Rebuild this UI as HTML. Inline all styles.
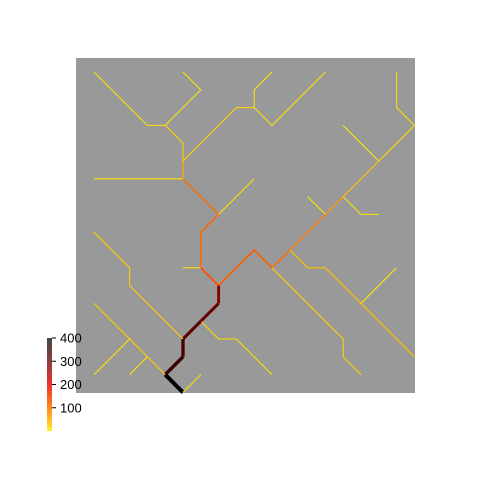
<!DOCTYPE html>
<html><head><meta charset="utf-8"><style>body{margin:0;background:#fff}svg{display:block}</style></head>
<body>
<svg id="c" width="480" height="480" xmlns="http://www.w3.org/2000/svg">
<defs><linearGradient id="g" x1="0" y1="1" x2="0" y2="0">
<stop offset="0" stop-color="#ffee33"/><stop offset="0.25" stop-color="#ff8c1a"/><stop offset="0.5" stop-color="#ee3030"/><stop offset="0.75" stop-color="#884040"/><stop offset="1" stop-color="#444"/></linearGradient></defs>
<rect x="76" y="58" width="339" height="335" fill="#999999"/>
<g id="net"></g>
<rect x="47" y="338" width="5" height="93" fill="url(#g)"/>
<g id="cb"></g>
</svg>
<script>
const paths=[
[[0,0],[3,3],[4,3]],[[5,0],[6,1],[4,3]],[[4,3],[5,4],[5,5]],[[5,5],[5,6]],
[[10,0],[9,1],[9,2]],[[13,0],[10,3],[9,2]],[[9,2],[8,2],[5,5]],
[[0,6],[5,6]],[[5,6],[7,8]],[[9,6],[7,8]],[[7,8],[6,9],[6,11]],[[5,11],[6,11]],[[6,11],[7,12]],
[[17,0],[17,2],[18,3],[16,5]],[[14,3],[16,5]],[[16,5],[14,7]],[[14,7],[15,8],[16,8]],[[14,7],[13,8]],[[12,7],[13,8]],
[[13,8],[11,10]],[[11,10],[10,11]],[[11,10],[12,11],[13,11],[18,16]],[[17,11],[15,13]],
[[10,11],[14,15],[14,16],[15,17]],[[10,11],[9,10],[7,12]],
[[7,12],[7,13]],[[7,13],[6,14]],[[6,14],[7,15],[8,15],[10,17]],[[6,14],[5,15]],
[[0,9],[2,11],[2,12],[5,15]],[[5,15],[5,16]],[[5,16],[4,17]],
[[0,13],[4,17]],[[0,17],[2,15]],[[2,17],[3,16]],[[4,17],[5,18]],[[6,17],[5,18]]
];
const flows=[6,3,12,30,4,4,12,6,60,4,70,2,110,8,3,20,4,40,2,55,60,20,4,12,90,250,270,8,285,14,310,330,16,4,3,400,3];
const ticks=[100,200,300,400];
function X(i){return 94+i*17.8}
function Y(j){return 72+j*17.8}
const stops=[[0,[255,238,0]],[30,[255,170,0]],[60,[255,110,0]],[110,[255,80,0]],[200,[230,40,20]],[260,[110,0,0]],[330,[60,0,0]],[400,[0,0,0]]];
function col(v){for(let k=1;k<stops.length;k++){if(v<=stops[k][0]){const a=stops[k-1],b=stops[k],t=(v-a[0])/(b[0]-a[0]);return 'rgb('+a[1].map((c,n)=>Math.round(c+(b[1][n]-c)*t)).join(',')+')';}}return '#000';}
const net=document.getElementById('net');
paths.forEach((p,k)=>{
 const el=document.createElementNS('http://www.w3.org/2000/svg','polyline');
 el.setAttribute('points',p.map(q=>X(q[0])+','+Y(q[1])).join(' '));
 el.setAttribute('fill','none');
 el.setAttribute('stroke',col(flows[k]));
 el.setAttribute('stroke-width',(1+3*flows[k]/400).toFixed(2));
 el.setAttribute('stroke-linejoin','round');
 
 
 net.appendChild(el);
});
const cb=document.getElementById('cb');
ticks.forEach(t=>{
 const y=431-t/400*93;
 const l=document.createElementNS('http://www.w3.org/2000/svg','line');
 l.setAttribute('x1',52);l.setAttribute('x2',56);l.setAttribute('y1',y);l.setAttribute('y2',y);l.setAttribute('stroke','#000');
 
 
 cb.appendChild(l);
 const tx=document.createElementNS('http://www.w3.org/2000/svg','text');
 tx.setAttribute('x',60);tx.setAttribute('y',y+4.5);tx.setAttribute('font-size','13');tx.setAttribute('font-family','Liberation Sans, sans-serif');
 tx.textContent=t;
 
 
 cb.appendChild(tx);
});
</script>
</body></html>
